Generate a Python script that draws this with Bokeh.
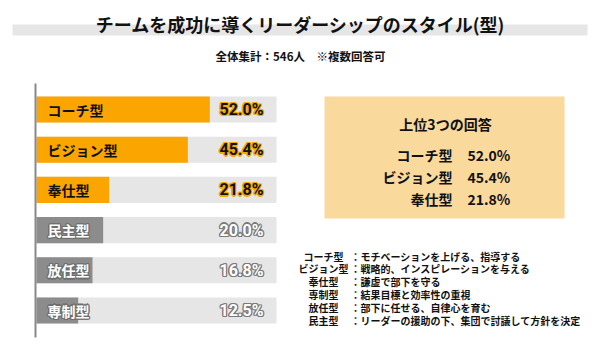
from bokeh.plotting import figure
from bokeh.models import Range1d, Label, BoxAnnotation, ColumnDataSource
from bokeh.core.properties import value
from bokeh.embed import file_html
from bokeh.resources import INLINE

# ---------------- data ----------------
categories = ["コーチ型", "ビジョン型", "奉仕型", "民主型", "放任型", "専制型"]
values = [52.0, 45.4, 21.8, 20.0, 16.8, 12.5]
value_labels = ["52.0%", "45.4%", "21.8%", "20.0%", "16.8%", "12.5%"]
highlight = [True, True, True, False, False, False]
scale_max = 72.0

top_categories = ["コーチ型", "ビジョン型", "奉仕型"]
top_labels = ["52.0%", "45.4%", "21.8%"]

legend_types = ["コーチ型", "ビジョン型", "奉仕型", "専制型", "放任型", "民主型"]
legend_desc = [
    "モチベーションを上げる、指導する",
    "戦略的、インスピレーションを与える",
    "謙虚で部下を守る",
    "結果目標と効率性の重視",
    "部下に任せる、自律心を育む",
    "リーダーの援助の下、集団で討議して方針を決定",
]

title_text = "チームを成功に導くリーダーシップのスタイル(型)"
subtitle_text = "全体集計：546人　※複数回答可"
box_title = "上位3つの回答"

# ---------------- layout helpers (image pixel -> data) ----------------
W, H = 600, 360
PX_PER_UNIT_X = 240.0 / scale_max
ROW_PX = 40.2


def X(px):
    return (px - 36.0) / PX_PER_UNIT_X


def Y(py):
    return (py - 109.0) / ROW_PX


JP = "Noto Sans CJK JP"
NUM = "Roboto"

ORANGE = "#FBA600"
GREY = "#8C8C8C"
BG = "#E6E6E6"

p = figure(width=W, height=H, output_backend="svg", toolbar_location=None,
           x_range=Range1d(X(0), X(W)), y_range=Range1d(Y(H), Y(0)),
           x_axis_location=None, y_axis_location=None, min_border=0)
p.outline_line_color = None
p.xgrid.visible = False
p.ygrid.visible = False
p.background_fill_color = "white"
p.border_fill_color = "white"

rows = list(range(len(categories)))
bar_colors = [ORANGE if h else GREY for h in highlight]

src = ColumnDataSource(dict(y=rows, v=values, c=bar_colors, cat=categories,
                            lab=value_labels, full=[scale_max] * len(rows)))

# background bars and value bars
p.hbar(y="y", left=0, right="full", height=0.65, source=src,
       fill_color=BG, line_color=None)
p.hbar(y="y", left=0, right="v", height=0.65, source=src,
       fill_color="c", line_color=None)

# axis line
p.segment(x0=[X(35)], x1=[X(35)], y0=[Y(83)], y1=[Y(337)],
          line_color="#8A8A8A", line_width=2)

offsets = [(-1.3, 0), (1.3, 0), (0, -1.3), (0, 1.3),
           (-1, -1), (1, 1), (-1, 1), (1, -1)]


def outlined(xs, ys, texts, fill, stroke, size, font, align, style="bold"):
    if stroke is not None:
        for dx, dy in offsets:
            p.text(x=xs, y=ys, text=texts, x_offset=dx, y_offset=dy,
                   text_color=stroke, text_font=value(font), text_font_size=size,
                   text_font_style=style, text_align=align, text_baseline="middle")
    p.text(x=xs, y=ys, text=texts, text_color=fill, text_font=value(font),
           text_font_size=size, text_font_style=style, text_align=align,
           text_baseline="middle")


hi = [i for i in rows if highlight[i]]
lo = [i for i in rows if not highlight[i]]

# category labels inside bars
outlined([X(47)] * len(hi), hi, [categories[i] for i in hi], "#111111", None,
         "14px", JP, "left")
outlined([X(47)] * len(lo), lo, [categories[i] for i in lo], "white", "#6E6E6E",
         "14px", JP, "left")

# value labels
outlined([X(263)] * len(hi), hi, [value_labels[i] for i in hi], "#111111", "#F2A900",
         "16px", NUM, "right")
outlined([X(263)] * len(lo), lo, [value_labels[i] for i in lo], "white", "#7A7A7A",
         "16px", NUM, "right")

# title band & titles
p.add_layout(BoxAnnotation(left=X(12), right=X(587), top=Y(24), bottom=Y(35),
                           fill_color=BG, fill_alpha=1, line_color=None, level="underlay"))
p.add_layout(Label(x=X(300), y=Y(23.5), text=title_text, text_font=JP,
                   text_font_size="18px", text_font_style="bold", text_align="center",
                   text_baseline="middle", text_color="#111111"))
p.add_layout(Label(x=X(300), y=Y(55.5), text=subtitle_text, text_font=JP,
                   text_font_size="11.5px", text_font_style="bold", text_align="center",
                   text_baseline="middle", text_color="#111111"))

# top-3 box
p.add_layout(BoxAnnotation(left=X(324), right=X(564), top=Y(96), bottom=Y(218),
                           fill_color="#F9D99C", fill_alpha=1, line_color=None,
                           level="underlay"))
p.add_layout(Label(x=X(445), y=Y(123), text=box_title, text_font=JP,
                   text_font_size="14px", text_font_style="bold", text_align="center",
                   text_baseline="middle", text_color="#111111"))
box_y = [Y(154 + 22 * i) for i in range(len(top_categories))]
p.text(x=[X(452)] * len(top_categories), y=box_y, text=top_categories,
       text_font=value(JP), text_font_size="14px", text_font_style="bold",
       text_align="right", text_baseline="middle", text_color="#111111")
p.text(x=[X(467)] * len(top_labels), y=box_y, text=top_labels,
       text_font=value(JP), text_font_size="14px", text_font_style="bold",
       text_align="left", text_baseline="middle", text_color="#111111")

# legend / descriptions
leg_y = [Y(255.5 + 12.8 * i) for i in range(len(legend_types))]
p.text(x=[X(323)] * len(legend_types), y=leg_y, text=legend_types,
       text_font=value(JP), text_font_size="10px", text_font_style="bold",
       text_align="center", text_baseline="middle", text_color="#111111")
p.text(x=[X(350)] * len(legend_desc), y=leg_y, text=["：" + d for d in legend_desc],
       text_font=value(JP), text_font_size="10px", text_font_style="bold",
       text_align="left", text_baseline="middle", text_color="#111111")

open("out.html", "w").write(file_html(p, INLINE))
